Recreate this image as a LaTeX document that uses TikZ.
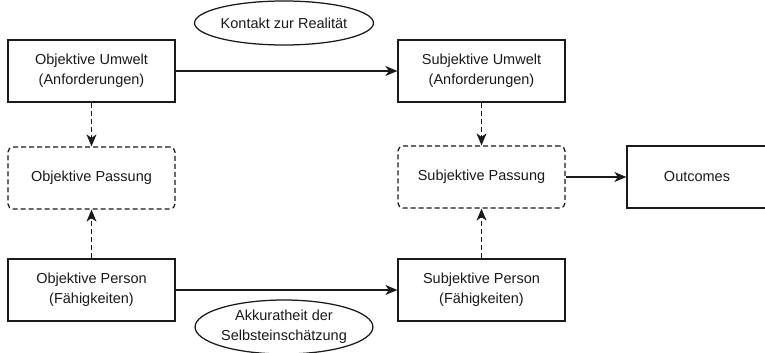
\documentclass[tikz,border=0pt]{standalone}
\usepackage{fontspec}
\setmainfont{Liberation Sans}
\usetikzlibrary{shapes.geometric,arrows.meta}
\definecolor{lc}{HTML}{1A1A1A}
\begin{document}
\begin{tikzpicture}[x=1pt,y=-1pt,
  every node/.style={font=\fontsize{14.5}{20}\selectfont, text=lc, align=center, inner sep=0pt},
  solidbox/.style={draw=lc, line width=1.25pt, minimum width=167pt, minimum height=62pt},
  dashbox/.style={draw=lc, line width=1.25pt, dash pattern=on 5pt off 3pt, rounded corners=5pt, minimum width=167pt, minimum height=62pt},
  oval/.style={draw=lc, line width=1.25pt, ellipse},
  arr/.style={draw=lc, line width=1.25pt, -{Stealth[length=12pt,width=10pt,inset=3.5pt]}},
  darr/.style={arr, dash pattern=on 5pt off 3pt}]
\useasboundingbox (0,0) rectangle (765,353);
\fill[white] (0,0) rectangle (765,353);
\node[solidbox] (ou) at (91.5,71) {Objektive Umwelt\\(Anforderungen)};
\node[solidbox] (su) at (481.5,71) {Subjektive Umwelt\\(Anforderungen)};
\node[dashbox] (op) at (91.5,178) {Objektive Passung};
\node[dashbox] (sp) at (481.5,177) {Subjektive Passung};
\node[solidbox, minimum width=140pt] (out) at (697,177) {Outcomes};
\node[solidbox] (oper) at (91.5,290) {Objektive Person\\(Fähigkeiten)};
\node[solidbox] (sper) at (481.5,290) {Subjektive Person\\(Fähigkeiten)};
\node[oval, minimum width=158pt, minimum height=44pt] (e1) at (284,23) {Kontakt zur Realität};
\node[oval, minimum width=162pt, minimum height=54pt] (e2) at (284,327) {Akkuratheit der\\Selbsteinschätzung};
\draw[arr] (ou.east) -- (su.west);
\draw[arr] (oper.east) -- (sper.west);
\draw[arr] (sp.east) -- (out.west);
\draw[darr] (ou.south) -- (op.north);
\draw[darr] (oper.north) -- (op.south);
\draw[darr] (su.south) -- (sp.north);
\draw[darr] (sper.north) -- (sp.south);
\end{tikzpicture}
\end{document}
